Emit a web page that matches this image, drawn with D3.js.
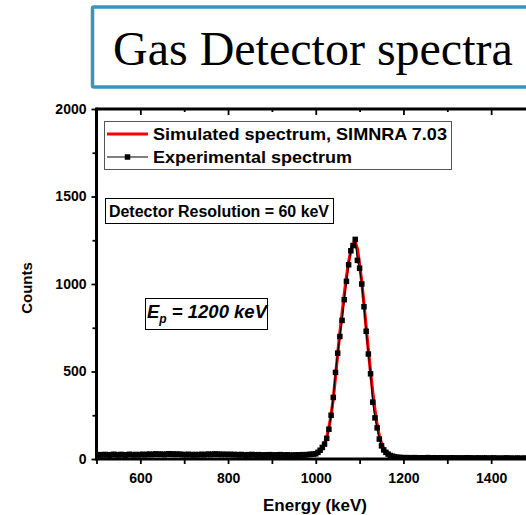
<!DOCTYPE html>
<html>
<head>
<meta charset="utf-8">
<script src="https://cdn.jsdelivr.net/npm/d3@7"></script>
<style>
  html, body { margin: 0; padding: 0; background: #fff; }
  svg { display: block; }
  .sans { font-family: Arial, "Liberation Sans", sans-serif; font-weight: bold; }
</style>
</head>
<body>
<svg id="chart" width="526" height="515"></svg>
<script>
// Channel calibration of the spectra (keV)
const expStart = 500, expStep = 5;
const simStart = 950, simStep = 5;

// Experimental spectrum, counts per channel (500 ... 1500 keV)
const expCounts = [
  24, 22, 25, 23, 26, 24, 22, 25, 27, 24, 23, 26, 25, 22, 24, 27, 25, 23, 26, 24,
  25, 27, 24, 26, 28, 25, 27, 29, 26, 28, 27, 25, 28, 30, 27, 29, 26, 28, 27, 25,
  26, 24, 27, 25, 23, 26, 24, 25, 27, 24, 26, 28, 25, 27, 29, 26, 28, 25, 27, 26,
  25, 27, 24, 26, 25, 23, 26, 24, 22, 25, 23, 26, 24, 22, 25, 23, 21, 24, 22, 25,
  23, 21, 24, 22, 25, 23, 21, 24, 22, 20, 23, 21, 24, 22, 25, 23, 25, 26, 27, 28,
  30, 38, 50, 66, 85, 118, 170, 250, 352, 495, 605, 700, 792, 910, 1015, 1110, 1190, 1220, 1255, 1135,
  1090, 1000, 870, 730, 600, 487, 325, 235, 178, 114, 75, 52, 38, 28, 20, 16, 13, 10, 9, 8,
  8, 7, 8, 6, 7, 8, 6, 7, 5, 7, 6, 8, 6, 5, 7, 6, 5, 7, 6, 5,
  6, 5, 7, 6, 5, 6, 4, 6, 5, 7, 5, 6, 4, 5, 6, 5, 4, 6, 5, 4,
  5, 6, 4, 5, 3, 5, 4, 6, 4, 5, 3, 4, 5, 4, 3, 5, 4, 3, 4, 5, 4
];

// SIMNRA 7.03 simulated spectrum (950 ... 1250 keV)
const simCounts = [
  22, 22, 22, 22, 23, 23, 24, 25, 26, 28,
  31, 37, 47, 63, 88, 125, 178, 250, 345, 470, 600, 720, 830, 940, 1040, 1125, 1190, 1230, 1240, 1200,
  1110, 1010, 885, 750, 620, 495, 380, 280, 195, 132, 88, 58, 39, 27, 19, 15, 12, 10, 9, 8,
  8, 7, 7, 7, 7, 7, 7, 7, 7, 7, 7
];

const xMajorTicks = [500, 600, 700, 800, 900, 1000, 1100, 1200, 1300, 1400, 1500];
const xLabelTicks = [600, 800, 1000, 1200, 1400];
const yLabelTicks = [0, 500, 1000, 1500, 2000];
const yMinorTicks = [250, 750, 1250, 1750];

const titleText = "Gas Detector spectra";
const legendLabels = ["Simulated spectrum, SIMNRA 7.03", "Experimental spectrum"];
const resolutionText = "Detector Resolution = 60 keV";

const expData = expCounts.map((c, i) => ({ e: expStart + i * expStep, c }));
const simData = simCounts.map((c, i) => ({ e: simStart + i * simStep, c }));

const svg = d3.select("#chart");
const plot = { left: 96.5, right: 535, top: 109, bottom: 459 };

const x = d3.scaleLinear().domain([500, 1500]).range([plot.left, plot.right]);
const y = d3.scaleLinear().domain([0, 2000]).range([plot.bottom, plot.top]);

const SANS = "Arial, 'Liberation Sans', sans-serif";

// Title box
svg.append("rect")
  .attr("x", 92.5).attr("y", 7).attr("width", 460).attr("height", 80)
  .attr("fill", "#fff").attr("stroke", "#3a94bb").attr("stroke-width", 3.5)
  .attr("rx", 1.5);
svg.append("text")
  .attr("x", 113).attr("y", 65)
  .attr("font-family", "'Times New Roman', 'Liberation Serif', serif")
  .attr("font-size", 48)
  .attr("fill", "#000")
  .text(titleText);

// Clip for data
svg.append("defs").append("clipPath").attr("id", "plotclip")
  .append("rect")
  .attr("x", plot.left).attr("y", plot.top)
  .attr("width", plot.right - plot.left).attr("height", plot.bottom - plot.top);

const dataG = svg.append("g").attr("clip-path", "url(#plotclip)");

const line = d3.line().x(d => x(d.e)).y(d => y(d.c));

dataG.append("path").datum(simData)
  .attr("d", line).attr("fill", "none")
  .attr("stroke", "#ff0000").attr("stroke-width", 3.2)
  .attr("stroke-linejoin", "round");

dataG.append("path").datum(expData)
  .attr("d", line).attr("fill", "none")
  .attr("stroke", "#000").attr("stroke-width", 1.2);

const ms = 5.5;
dataG.selectAll("rect.pt").data(expData).join("rect")
  .attr("class", "pt")
  .attr("x", d => x(d.e) - ms / 2).attr("y", d => y(d.c) - ms / 2)
  .attr("width", ms).attr("height", ms)
  .attr("fill", "#000");

// Axes
function styleAxis(g) {
  g.select(".domain").remove();
  g.selectAll(".tick line").attr("stroke", "#000").attr("stroke-width", 1.8);
  g.selectAll(".tick text")
    .attr("font-family", SANS).attr("font-weight", "bold")
    .attr("font-size", 14).attr("fill", "#000");
}

// bottom: major ticks with labels
const bottomAxis = svg.append("g")
  .attr("transform", `translate(0,${plot.bottom})`)
  .call(d3.axisBottom(x).tickValues(xMajorTicks)
    .tickSize(5).tickPadding(9)
    .tickFormat(d => xLabelTicks.includes(d) ? d3.format("d")(d) : ""));
styleAxis(bottomAxis);

// top: inward ticks, no labels
const topAxis = svg.append("g")
  .attr("transform", `translate(0,${plot.top})`)
  .call(d3.axisTop(x).tickValues(xMajorTicks).tickSize(-5).tickFormat(""));
styleAxis(topAxis);
topAxis.selectAll(".tick line").attr("y2", d => xLabelTicks.includes(d) ? 6 : 3);

// left: major and minor outward ticks
const leftAxis = svg.append("g")
  .attr("transform", `translate(${plot.left},0)`)
  .call(d3.axisLeft(y).tickValues(yLabelTicks).tickSize(5).tickPadding(5)
    .tickFormat(d3.format("d")));
styleAxis(leftAxis);

const leftMinor = svg.append("g")
  .attr("transform", `translate(${plot.left},0)`)
  .call(d3.axisLeft(y).tickValues(yMinorTicks).tickSize(4).tickFormat(""));
styleAxis(leftMinor);

// frame lines
svg.append("line").attr("x1", plot.left).attr("x2", plot.left)
  .attr("y1", plot.top - 1.5).attr("y2", plot.bottom + 1.5)
  .attr("stroke", "#000").attr("stroke-width", 3);
svg.append("line").attr("x1", plot.left).attr("x2", plot.right)
  .attr("y1", plot.bottom).attr("y2", plot.bottom)
  .attr("stroke", "#000").attr("stroke-width", 3);
svg.append("line").attr("x1", plot.left).attr("x2", plot.right)
  .attr("y1", plot.top).attr("y2", plot.top)
  .attr("stroke", "#000").attr("stroke-width", 3);

// axis titles
svg.append("text").attr("class", "sans")
  .attr("x", 315).attr("y", 511).attr("text-anchor", "middle")
  .attr("font-size", 17).text("Energy (keV)");
svg.append("text").attr("class", "sans")
  .attr("transform", "translate(32,288) rotate(-90)")
  .attr("text-anchor", "middle")
  .attr("font-size", 15).text("Counts");

// legend
const lg = svg.append("g");
lg.append("rect").attr("x", 104.5).attr("y", 121.5).attr("width", 347).attr("height", 48)
  .attr("fill", "#fff").attr("stroke", "#555").attr("stroke-width", 1);
lg.append("line").attr("x1", 107).attr("x2", 148).attr("y1", 134).attr("y2", 134)
  .attr("stroke", "#ff0000").attr("stroke-width", 3.2);
lg.append("line").attr("x1", 107).attr("x2", 148).attr("y1", 157).attr("y2", 157)
  .attr("stroke", "#000").attr("stroke-width", 1.2);
lg.append("rect").attr("x", 127.5 - ms / 2).attr("y", 157 - ms / 2)
  .attr("width", ms).attr("height", ms).attr("fill", "#000");
lg.append("text").attr("class", "sans").attr("x", 153).attr("y", 140)
  .attr("font-size", 17).attr("textLength", 294).attr("lengthAdjust", "spacingAndGlyphs")
  .text(legendLabels[0]);
lg.append("text").attr("class", "sans").attr("x", 153).attr("y", 163)
  .attr("font-size", 17).attr("textLength", 199).attr("lengthAdjust", "spacingAndGlyphs")
  .text(legendLabels[1]);

// resolution note
svg.append("rect").attr("x", 105.5).attr("y", 198.5).attr("width", 228).attr("height", 25)
  .attr("fill", "#fff").attr("stroke", "#000").attr("stroke-width", 1);
svg.append("text").attr("class", "sans").attr("x", 109).attr("y", 217)
  .attr("font-size", 16).attr("textLength", 220).attr("lengthAdjust", "spacingAndGlyphs")
  .text(resolutionText);

// beam energy note
svg.append("rect").attr("x", 145.5).attr("y", 298.5).attr("width", 122).attr("height", 31)
  .attr("fill", "#fff").attr("stroke", "#000").attr("stroke-width", 1);
const ep = svg.append("text").attr("class", "sans").attr("x", 147).attr("y", 318)
  .attr("font-size", 18.5).attr("font-style", "italic");
ep.append("tspan").text("E");
ep.append("tspan").attr("font-size", 12).attr("dy", 5).text("p");
ep.append("tspan").attr("dy", -5).text(" = 1200 keV");
</script>
</body>
</html>
